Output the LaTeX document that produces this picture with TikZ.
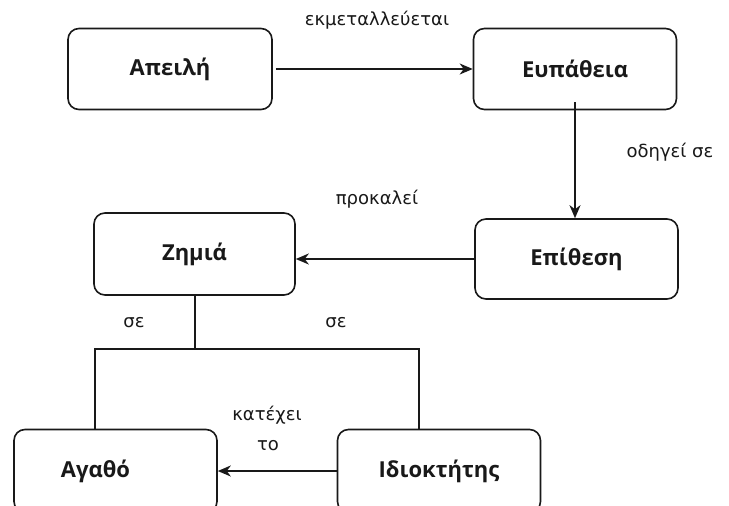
\documentclass[tikz,border=0pt]{standalone}
\usepackage{fontspec}
\setmainfont{DejaVu Sans}
\newfontfamily\boxface{Open Sans}
\usetikzlibrary{arrows.meta}
\definecolor{ink}{RGB}{25,25,25}
\tikzset{
  box/.style={draw=ink, line width=1.6pt, rounded corners=11pt, fill=white,
    minimum width=#1, minimum height=81pt, inner sep=0pt,
    font=\fontsize{22}{27}\boxface\bfseries, text=ink},
  box/.default=203pt,
  boxtext/.style={font=\fontsize{22}{27}\boxface\bfseries, text=ink, inner sep=0pt},
  lbl/.style={font=\fontsize{18}{22}\selectfont, text=ink, inner sep=0pt},
  link/.style={draw=ink, line width=1.8pt},
  arrow/.style={link, -{Stealth[length=13pt,width=11pt,inset=4pt]}}
}
\begin{document}
\begin{tikzpicture}[x=1pt,y=-1pt]
  \fill[white] (0,0) rectangle (729,506);
  \clip (0,0) rectangle (729,506);
  \useasboundingbox (0,0) rectangle (729,506);

  % boxes
  \node[box=204pt] (threat) at (170,69) {Απειλή};
  \node[box] (vuln) at (575,69) {Ευπάθεια};
  \node[box, minimum height=80pt] (attack) at (576.5,259) {Επίθεση};
  \node[box=201pt, minimum height=82pt] (damage) at (194.5,254) {Ζημιά};
  \node[box, minimum height=83pt] (asset) at (115.5,471) {};
  \node[boxtext] (assettext) at ([xshift=-20pt]asset.center) {Αγαθό};
  \node[box, minimum height=83pt] (owner) at (439,471) {Ιδιοκτήτης};

  % connectors
  \draw[arrow] ([xshift=3pt]threat.east) -- (vuln.west);
  \draw[arrow] ([yshift=8pt]vuln.south) -- (vuln.south |- attack.north);
  \draw[arrow] (attack.west) -- (damage.east |- attack.west);
  \draw[arrow] (owner.west) -- (asset.east);

  \coordinate (split) at (195,349);
  \draw[link] (damage.south -| split) -- (split);
  \draw[link] ([xshift=-20.5pt]asset.north) |- (split) -| ([xshift=-20pt]owner.north);

  % edge labels
  \node[lbl] (l1) at (377,20) {εκμεταλλεύεται};
  \node[lbl] (l2) at (670,152) {οδηγεί σε};
  \node[lbl] (l3) at (377,199) {προκαλεί};
  \node[lbl] (l4) at (134,323) {σε};
  \node[lbl] (l5) at (336,323) {σε};
  \node[lbl] (l6) at (267,415) {κατέχει};
  \node[lbl] (l7) at (268,446) {το};
\end{tikzpicture}
\end{document}
